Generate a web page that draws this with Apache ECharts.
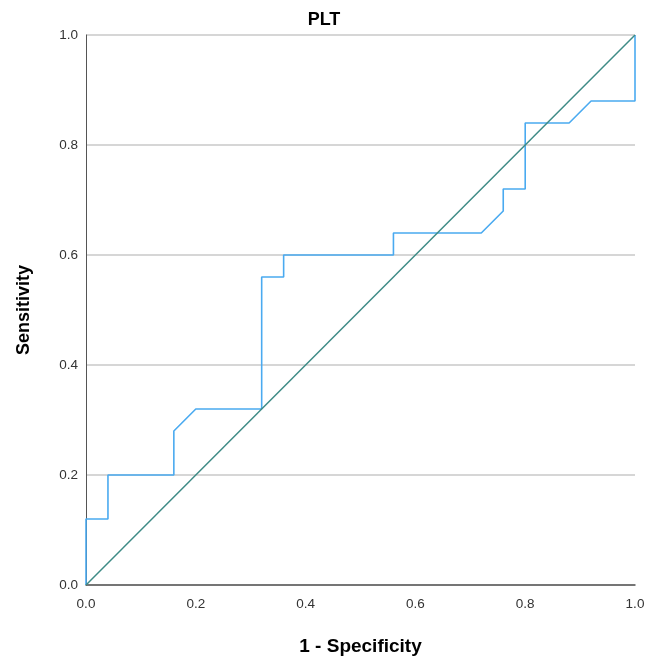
<!DOCTYPE html>
<html><head><meta charset="utf-8">
<script src="https://cdn.jsdelivr.net/npm/echarts@6/dist/echarts.min.js"></script>
<style>html,body{margin:0;padding:0;background:#fff}#c{width:665px;height:663px}</style>
</head><body><div id="c"></div>
<script>
const rocX = [0, 0, 0.04, 0.04, 0.16, 0.16, 0.20, 0.32, 0.32, 0.36, 0.36, 0.56, 0.56, 0.72, 0.76, 0.76, 0.80, 0.80, 0.88, 0.92, 1.00, 1.00];
const rocY = [0, 0.12, 0.12, 0.20, 0.20, 0.28, 0.32, 0.32, 0.56, 0.56, 0.60, 0.60, 0.64, 0.64, 0.68, 0.72, 0.72, 0.84, 0.84, 0.88, 0.88, 1.00];
const refX = [0, 1];
const refY = [0, 1];
const ticks = [0, 0.2, 0.4, 0.6, 0.8, 1.0];

const chart = echarts.init(document.getElementById('c'));
const font = 'Liberation Sans, Arial, sans-serif';
chart.setOption({
  animation: false,
  title: {
    text: 'PLT', left: 319, top: 6, textAlign: 'center',
    textStyle: {fontFamily: font, fontSize: 18, fontWeight: 'bold', color: '#000'}
  },
  grid: {left: 86, right: 30, top: 35, bottom: 78, containLabel: false, outerBoundsMode: 'none'},
  xAxis: {
    type: 'value', min: 0, max: 1, interval: 0.2,
    name: '1 - Specificity', nameLocation: 'middle', nameGap: 52,
    nameTextStyle: {fontFamily: font, fontSize: 19, fontWeight: 'bold', color: '#000'},
    axisLine: {show: true, lineStyle: {color: '#555', width: 1.5}},
    axisTick: {show: false},
    splitLine: {show: false},
    axisLabel: {fontFamily: font, fontSize: 13.5, color: '#333', margin: 12,
      formatter: v => v.toFixed(1)}
  },
  yAxis: {
    type: 'value', min: 0, max: 1, interval: 0.2,
    name: 'Sensitivity', nameLocation: 'middle', nameGap: 53,
    nameTextStyle: {fontFamily: font, fontSize: 18, fontWeight: 'bold', color: '#000'},
    axisLine: {show: true, lineStyle: {color: '#555', width: 1}},
    axisTick: {show: false},
    splitLine: {show: true, lineStyle: {color: '#c8c8c8', width: 1.5}},
    axisLabel: {fontFamily: font, fontSize: 13.5, color: '#333', margin: 8,
      formatter: v => v.toFixed(1)}
  },
  series: [
    {
      type: 'line', data: refX.map((x, i) => [x, refY[i]]),
      symbol: 'none', lineStyle: {color: '#3e8b86', width: 1.5}, z: 3
    },
    {
      type: 'line', data: rocX.map((x, i) => [x, rocY[i]]),
      symbol: 'none', lineStyle: {color: '#4aaaf0', width: 1.6}, z: 2
    }
  ]
});
</script></body></html>
